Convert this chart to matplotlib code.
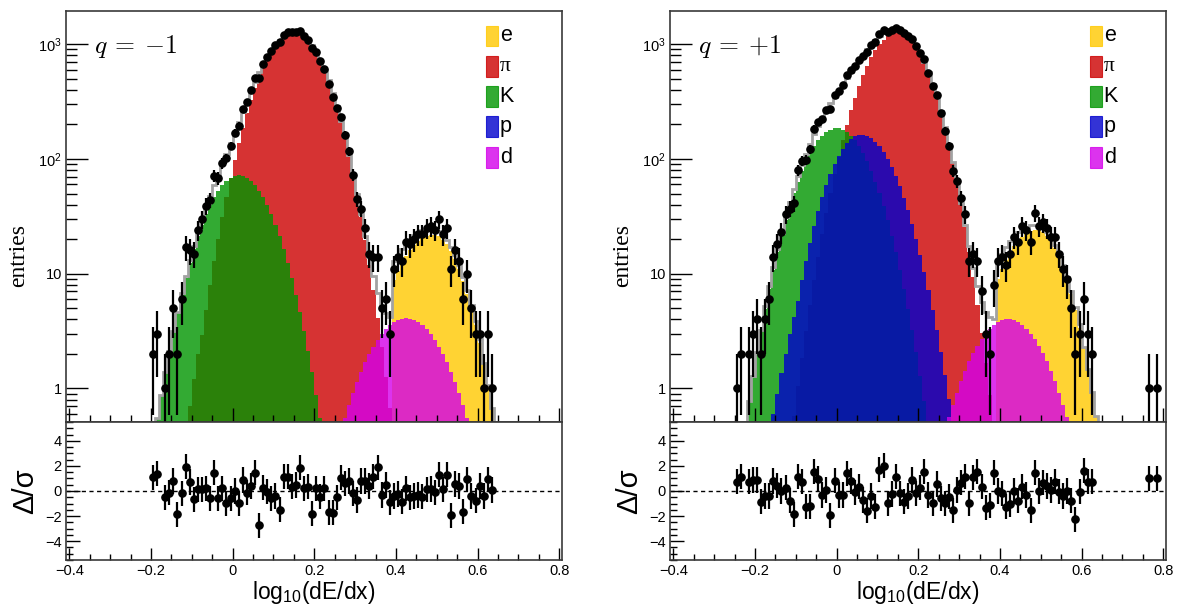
import numpy as np
import matplotlib
matplotlib.use("Agg")
import matplotlib.pyplot as plt
from matplotlib.patches import Rectangle
from matplotlib.ticker import MultipleLocator, FixedLocator, FixedFormatter, LogLocator, NullFormatter, FuncFormatter

plt.rcParams.update({
    "font.family": ["Liberation Sans", "DejaVu Sans"],
    "mathtext.fontset": "custom",
    "mathtext.rm": "Liberation Sans",
    "mathtext.it": "Liberation Sans:italic",
    "mathtext.bf": "Liberation Sans:bold",
    "axes.unicode_minus": True,
})

BIN = 0.01
species = ["e", "π", "K", "p", "d"]
charge_labels = [r"$q\:=\:{-}1$", r"$q\:=\:{+}1$"]

# ---------------- q = -1 ----------------
pi_neg_start = -0.125
pi_neg = [0.22, 0.4, 0.7, 1.2, 2.0, 2.9, 4.8, 7.9, 12.8, 20.1, 31.0, 46.5, 68.2, 97.7, 137, 187, 250, 325,
          414, 515, 625, 741, 858, 970, 1072, 1156, 1218, 1253, 1259, 1231, 1171, 1083, 975, 853, 726, 601,
          484, 379, 289, 214, 154, 108, 73.6, 48.8, 31.5, 19.7, 12.0, 7.14, 4.12, 2.31, 1.26, 0.67, 0.35]
k_neg_start = -0.205
k_neg = [0.20, 0.33, 0.55, 0.88, 1.38, 2.12, 3.17, 4.62, 6.58, 9.15, 12.4, 16.4, 21.2, 26.8, 33.0, 39.6,
         46.4, 53.1, 59.2, 64.5, 68.6, 71.1, 72.0, 71.1, 68.6, 64.5, 59.2, 53.1, 46.4, 39.6, 33.0, 26.8,
         21.2, 16.4, 12.4, 9.15, 6.58, 4.62, 3.17, 2.12, 1.38, 0.88, 0.55, 0.33, 0.20]
p_neg_start = 0.0
p_neg = []
e_neg_start = 0.395
e_neg = [8.76, 10.5, 12.4, 14.3, 16.2, 17.9, 19.4, 20.6, 21.5, 21.9, 21.9, 21.2, 19.8, 18.0, 15.7, 13.3,
         10.9, 8.68, 6.67, 4.95, 3.56, 2.47, 1.66, 1.08, 0.68, 0.41, 0.24]
d_neg_start = 0.245
d_neg = [0.23, 0.31, 0.42, 0.55, 0.72, 0.91, 1.14, 1.40, 1.69, 2.00, 2.32, 2.65, 2.98, 3.28, 3.56, 3.79,
         3.96, 4.06, 4.10, 4.06, 3.96, 3.79, 3.56, 3.28, 2.98, 2.65, 2.32, 2.00, 1.69, 1.40, 1.14, 0.91,
         0.72, 0.55, 0.42, 0.31, 0.23]
data_neg_start = -0.195
data_neg = [2, 3, 0, 1, 2, 5, 2, 6, 17, 16,
            15, 24, 30, 39, 44, 71, 68, 92, 101, 130,
            169, 195, 272, 316, 397, 505, 503, 678, 780, 873,
            984, 1044, 1211, 1270, 1274, 1283, 1302, 1181, 1097, 920,
            860, 715, 606, 447, 345, 280, 230, 162, 117, 73,
            45, 37, 25, 15, 14, 14, 5, 6, 3, 11,
            14, 13, 19, 18, 20, 22, 22, 25, 26, 24,
            30, 22, 25, 11, 16, 13, 6, 10, 5, 3,
            3, 1, 3, 1]
pull_neg = [1.09, 1.36, None, -0.51, -0.13, 0.80, -1.84, -0.19, 1.95, 0.72,
            -0.67, 0.13, 0.13, 0.21, -0.59, 1.47, -0.59, 0.21, -0.99, -0.59,
            0.00, -0.99, 0.88, -0.13, 0.40, 1.47, -2.72, 0.27, -0.05, -0.59,
            -0.40, -1.49, 1.15, 1.15, 0.35, 0.48, 1.87, 0.21, 0.35, -1.81,
            0.21, -0.45, 0.21, -1.68, -1.73, -0.51, 1.07, 0.61, 0.80, -0.19,
            -0.72, 0.80, 0.80, 0.40, 1.15, 1.89, -0.32, 0.48, -0.91, -0.40,
            -0.24, -0.85, 0.21, -0.51, -0.40, -0.32, -0.45, 0.13, 0.16, -0.11,
            1.28, 0.13, 1.28, -1.92, 0.56, 0.40, -1.65, 0.93, -0.40, -0.77,
            0.40, -0.40, 0.93, 0.08]

# ---------------- q = +1 ----------------
pi_pos_start = -0.115
pi_pos = [0.31, 0.58, 1.04, 1.84, 3.17, 5.33, 8.77, 14.1, 22.1, 33.8, 50.5, 73.7, 105, 146, 199, 265,
          343, 435, 538, 651, 767, 885, 995, 1094, 1175, 1232, 1261, 1260, 1225, 1156, 1061, 946, 819,
          690, 564, 448, 346, 260, 189, 134, 92.3, 61.8, 40.2, 25.4, 15.6, 9.28, 5.38, 3.03, 1.66, 0.88,
          0.45, 0.23]
k_pos_start = -0.245
k_pos = [0.15, 0.27, 0.46, 0.78, 1.28, 2.06, 3.23, 4.94, 7.39, 10.8, 15.4, 21.4, 29.1, 38.7, 50.2, 63.6,
         78.7, 95.1, 112.2, 129.3, 145.6, 160.1, 171.8, 180.1, 184.4, 184.4, 180.1, 171.8, 160.1, 145.6,
         129.3, 112.2, 95.1, 78.7, 63.6, 50.2, 38.7, 29.1, 21.4, 15.4, 10.8, 7.39, 4.94, 3.23, 2.06,
         1.28, 0.78, 0.46, 0.27, 0.15]
p_pos_start = -0.175
p_pos = [0.24, 0.38, 0.6, 0.9, 1.35, 2.0, 3.0, 4.2, 5.8, 8.8, 13.0, 18.6, 26.0, 35.3, 46.5, 59.8, 74.6,
         90.7, 107.1, 123.1, 137.5, 149.4, 158.0, 162.4, 162.5, 158.9, 151.7, 141.6, 129.2, 115.2, 100.4,
         85.5, 71.1, 57.9, 46.0, 35.7, 27.1, 20.1, 14.6, 10.3, 7.17, 4.85, 3.21, 2.07, 1.31, 0.81, 0.49,
         0.29]
e_pos_start = 0.395
e_pos = [9.05, 11.0, 13.1, 15.2, 17.3, 19.3, 21.0, 22.4, 23.4, 23.9, 23.9, 23.1, 21.5, 19.3, 16.7, 14.0,
         11.3, 8.82, 6.63, 4.82, 3.38, 2.28, 1.49, 0.94, 0.57, 0.33, 0.19]
d_pos_start = 0.245
d_pos = [0.23, 0.31, 0.42, 0.56, 0.72, 0.92, 1.16, 1.42, 1.72, 2.03, 2.36, 2.69, 3.01, 3.31, 3.57, 3.77,
         3.92, 3.99, 3.99, 3.92, 3.77, 3.57, 3.31, 3.01, 2.69, 2.36, 2.03, 1.72, 1.42, 1.16, 0.92, 0.72,
         0.56, 0.42, 0.31, 0.23]
data_pos_start = -0.245
data_pos = [1, 2, 0, 2, 3, 4, 2, 4, 6, 14,
            18, 23, 33, 37, 41, 80, 96, 98, 122, 184,
            208, 224, 267, 272, 364, 390, 442, 540, 594, 644,
            736, 792, 858, 985, 1049, 1232, 1319, 1269, 1330, 1390,
            1322, 1248, 1183, 1120, 962, 843, 741, 564, 432, 360,
            253, 177, 130, 79, 64, 46, 33, 13, 15, 13,
            7, 3, 2, 8, 13, 14, 12, 15, 21, 19,
            26, 24, 19, 34, 26, 28, 25, 21, 21, 15,
            11, 9, 5, 2, 3, 6, 3, 2, 0, 0,
            0, 0, 0, 0, 0, 0, 0, 0, 0, 0, 0,
            1, 0, 1]
pull_pos = [0.75, 1.15, None, 0.75, 0.88, 0.88, -0.85, -0.40, -0.40, 0.80,
            0.43, 0.00, 0.27, -0.77, -1.84, 1.15, 0.75, -1.25, -1.20, 1.52,
            0.96, -0.32, 0.08, -1.92, 0.83, -0.32, -0.32, 1.41, 0.80, -0.11,
            0.35, -0.72, -1.57, -0.40, -1.25, 1.68, 2.00, -0.99, -0.24, 1.15,
            -0.19, -0.85, -0.40, 0.88, -0.19, 0.27, 1.52, -0.32, -0.99, 0.56,
            -0.59, -0.99, -0.45, -1.52, 0.08, 0.67, 1.15, -0.99, 1.09, 1.52,
            0.35, -1.33, -1.12, 1.47, 0.00, -0.19, -1.25, -1.04, 0.00, -0.77,
            0.35, -0.32, -1.52, 1.47, 0.00, 0.67, 0.40, 0.08, 0.75, -0.05,
            -0.40, 0.00, -0.77, -2.27, -0.05, 1.60, 0.75, 0.75, None, None,
            None, None, None, None, None, None, None, None, None, None, None,
            1.01, None, 1.01]

# colours (drawn with alpha 0.8, as in the original)
col = {"e": "#ffc900", "π": "#cc0000", "K": "#009500", "p": "#0000cc", "d": "#d400ea"}
ALPHA = 0.8

panels = [
    dict(comp={"π": (pi_neg_start, pi_neg), "e": (e_neg_start, e_neg), "K": (k_neg_start, k_neg),
               "p": (p_neg_start, p_neg), "d": (d_neg_start, d_neg)},
         data=(data_neg_start, data_neg, pull_neg), label=charge_labels[0], left=66),
    dict(comp={"π": (pi_pos_start, pi_pos), "e": (e_pos_start, e_pos), "K": (k_pos_start, k_pos),
               "p": (p_pos_start, p_pos), "d": (d_pos_start, d_pos)},
         data=(data_pos_start, data_pos, pull_pos), label=charge_labels[1], left=670),
]

W, H = 1177, 612
fig = plt.figure(figsize=(W / 100, H / 100), dpi=100)

XLIM = (-0.408, 0.806)
GRID0, NGRID = -0.255, 92
draw_order = ["π", "e", "K", "p", "d"]
FRAME = "#3a3a3a"
AXW = 495.7


def edges_from(start, n):
    return start - BIN / 2 + BIN * np.arange(n + 1)


def to_grid(start, vals):
    arr = np.zeros(NGRID)
    if len(vals):
        i0 = int(round((start - GRID0) / BIN))
        arr[i0:i0 + len(vals)] = vals
    return arr


def xfmt(v, pos):
    if abs(v) < 1e-9:
        return "0"
    return f"{v:.1f}".replace("-", "\u2212")


for pan in panels:
    lx = pan["left"] / W
    wx = AXW / W
    ax = fig.add_axes([lx, (H - 422) / H, wx, (422 - 10.7) / H])
    axr = fig.add_axes([lx, (H - 560) / H, wx, 138 / H])

    # component templates
    total = np.zeros(NGRID)
    for sp in draw_order:
        start, vals = pan["comp"][sp]
        if len(vals) == 0:
            continue
        ax.stairs(vals, edges_from(start, len(vals)), fill=True, color=col[sp], alpha=ALPHA,
                  baseline=1e-3, lw=0)
        total += to_grid(start, vals)
    ax.stairs(total, edges_from(GRID0, NGRID), color="#a2a2a2", lw=2.0, baseline=None)

    # data
    dstart, dvals, pulls = pan["data"]
    dvals = np.array(dvals, dtype=float)
    pulls = np.array(pulls, dtype=float)
    xc = dstart + BIN * np.arange(len(dvals))
    m = dvals > 0
    ax.errorbar(xc[m], dvals[m], yerr=np.sqrt(dvals[m]), fmt="o", color="black", ms=5.2,
                elinewidth=1.6, capsize=0, zorder=5)
    mp = ~np.isnan(pulls)
    axr.errorbar(xc[mp], pulls[mp], yerr=np.ones(mp.sum()), fmt="o", color="black", ms=5.2,
                 elinewidth=1.6, capsize=0, zorder=5)
    axr.axhline(0, color="black", lw=1.0, ls=(0, (3, 2.5)), zorder=1)

    # axes, main
    ax.set_yscale("log")
    ax.set_ylim(0.51, 1960)
    ax.set_xlim(*XLIM)
    ax.yaxis.set_major_locator(FixedLocator([1, 10, 100, 1000]))
    ax.yaxis.set_major_formatter(FixedFormatter(["1", "10", r"$10^{2}$", r"$10^{3}$"]))
    ax.yaxis.set_minor_locator(LogLocator(base=10, subs=np.arange(2, 10), numticks=20))
    ax.yaxis.set_minor_formatter(NullFormatter())
    ax.xaxis.set_major_locator(MultipleLocator(0.2))
    ax.xaxis.set_minor_locator(MultipleLocator(0.05))
    ax.tick_params(axis="x", which="both", direction="in", labelbottom=False, top=False)
    ax.tick_params(axis="x", which="major", length=10, width=1)
    ax.tick_params(axis="x", which="minor", length=5, width=1)
    ax.tick_params(axis="y", which="major", direction="in", length=16, width=1, labelsize=10.5, pad=3)
    ax.tick_params(axis="y", which="minor", direction="in", length=8, width=1)
    ax.set_ylabel("entries", family="Liberation Serif", fontsize=17, va="center")
    ax.yaxis.set_label_coords(-47 / AXW, 0.406)

    # residual axes
    axr.set_xlim(*XLIM)
    axr.set_ylim(-5.5, 5.5)
    axr.yaxis.set_major_locator(FixedLocator([-4, -2, 0, 2, 4]))
    axr.yaxis.set_minor_locator(MultipleLocator(0.5))
    axr.xaxis.set_major_locator(MultipleLocator(0.2))
    axr.xaxis.set_minor_locator(MultipleLocator(0.05))
    axr.xaxis.set_major_formatter(FuncFormatter(xfmt))
    axr.tick_params(axis="x", which="major", direction="in", length=9, width=1, labelsize=10.5, pad=3)
    axr.tick_params(axis="x", which="minor", direction="in", length=4.5, width=1)
    axr.tick_params(axis="y", which="major", direction="in", length=10, width=1, labelsize=10.5, pad=3)
    axr.tick_params(axis="y", which="minor", direction="in", length=5, width=1)
    axr.set_ylabel("Δ/σ", fontsize=21, va="center")
    axr.yaxis.set_label_coords(-41 / AXW, 0.5)
    axr.set_xlabel(r"log$_{10}$(dE/dx)", fontsize=16.5)
    axr.xaxis.set_label_coords(0.5, -0.135)

    for a in (ax, axr):
        for s in a.spines.values():
            s.set_color(FRAME)
            s.set_linewidth(1.2)

    # charge label
    ax.text(0.057, 0.897, pan["label"], transform=ax.transAxes, fontsize=18.5,
            math_fontfamily="cm", va="baseline", ha="left")

    # legend
    y0 = 0.9385
    dy = 0.0737
    for i, sp in enumerate(species):
        yc = y0 - i * dy
        ax.add_patch(Rectangle((0.848, yc - 0.0255), 0.0236, 0.051, transform=ax.transAxes,
                               facecolor=col[sp], alpha=ALPHA, edgecolor=col[sp], lw=0.8,
                               clip_on=False, zorder=6))
        fam = ["Liberation Serif", "DejaVu Serif"] if sp == "π" else ["Liberation Sans", "DejaVu Sans"]
        ax.text(0.875, yc, sp, transform=ax.transAxes, fontsize=15.5, va="center", ha="left",
                family=fam, zorder=6)

fig.savefig("out.png", dpi=100)
